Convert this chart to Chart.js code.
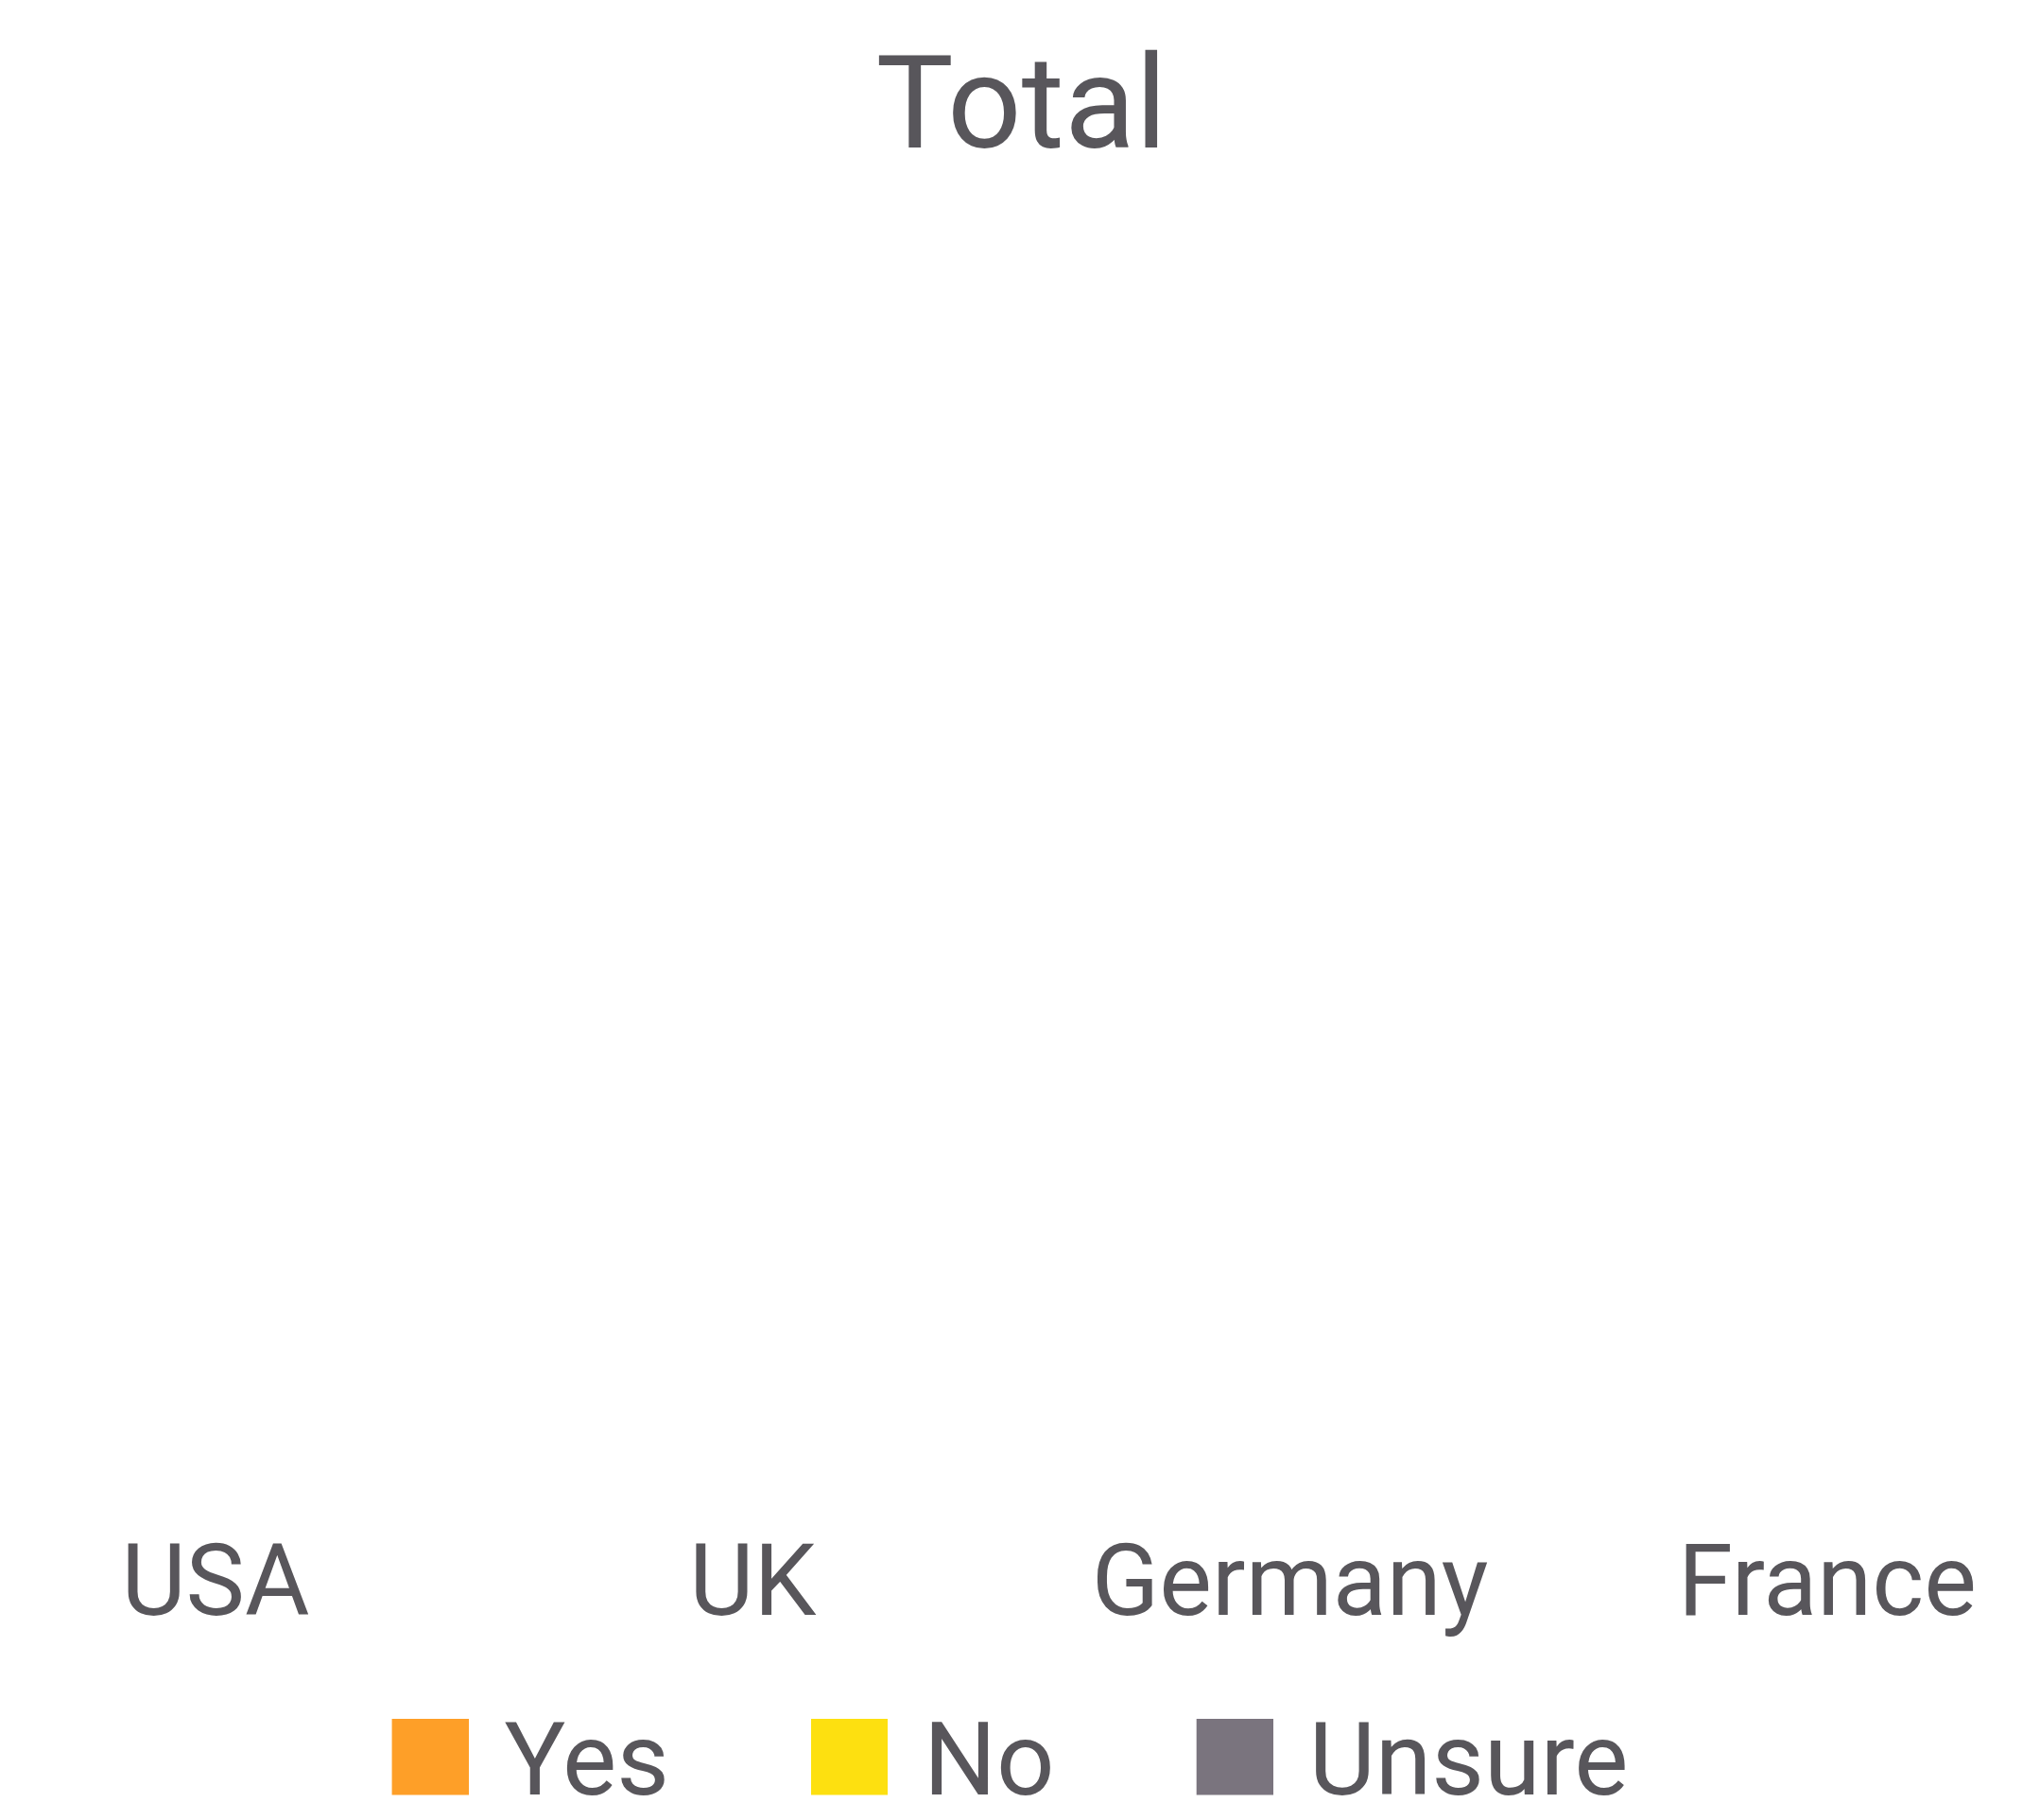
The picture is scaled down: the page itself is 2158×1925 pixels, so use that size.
<!DOCTYPE html>
<html>
<head>
<meta charset="utf-8">
<script src="https://cdn.jsdelivr.net/npm/chart.js@4"></script>
<style>
  html, body { margin: 0; padding: 0; background: #ffffff; }
  #wrap { width: 2158px; height: 1925px; }
</style>
</head>
<body>
<div id="wrap"><canvas id="chart"></canvas></div>
<script>
// categories and series (no bars are visible in the picture, so every value is 0)
const countries = ['USA', 'UK', 'Germany', 'France'];
const yesValues = [0, 0, 0, 0];
const noValues = [0, 0, 0, 0];
const unsureValues = [0, 0, 0, 0];

const textColor = '#58565b';

// legend swatch: square sits at the right/top of a wider canvas so the
// gap between square and text matches the original
function swatch(color) {
  const c = document.createElement('canvas');
  c.width = 185;
  c.height = 107;
  const ctx = c.getContext('2d');
  ctx.fillStyle = color;
  ctx.fillRect(c.width - 81, 0, 81, 81);
  return c;
}

const myChart = new Chart('chart', {
  type: 'bar',
  data: {
    labels: countries,
    datasets: [
      { label: 'Yes', data: yesValues, backgroundColor: '#fe9f28', pointStyle: swatch('#fe9f28') },
      { label: 'No', data: noValues, backgroundColor: '#fde010', pointStyle: swatch('#fde010') },
      { label: 'Unsure', data: unsureValues, backgroundColor: '#7a747e', pointStyle: swatch('#7a747e') }
    ]
  },
  options: {
    responsive: true,
    maintainAspectRatio: false,
    animation: false,
    layout: { padding: { left: 0, right: 109, top: 0, bottom: -10 } },
    plugins: {
      title: {
        display: true,
        fullSize: false,
        text: 'Total',
        color: textColor,
        font: { family: 'Roboto', size: 138, weight: 'normal' },
        padding: { top: 39, bottom: 20 }
      },
      legend: {
        position: 'bottom',
        labels: {
          color: textColor,
          font: { family: 'Roboto', size: 108 },
          usePointStyle: true,
          pointStyleWidth: 153,
          boxHeight: 81,
          padding: 62
        }
      },
      tooltip: { enabled: false }
    },
    scales: {
      x: {
        stacked: true,
        offset: false,
        grid: { display: false },
        border: { display: false },
        ticks: {
          color: textColor,
          font: { family: 'Roboto', size: 105 },
          maxRotation: 0,
          autoSkip: false,
          padding: 10
        }
      },
      y: {
        stacked: true,
        position: 'left',
        ticks: { display: false },
        grid: { display: false },
        border: { display: false },
        afterFit: function(scale) { scale.width = 228; }
      },
      yRight: {
        type: 'linear',
        position: 'right',
        ticks: { display: false },
        grid: { display: false },
        border: { display: false },
        afterFit: function(scale) { scale.width = 116; }
      }
    }
  }
});
</script>
</body>
</html>
